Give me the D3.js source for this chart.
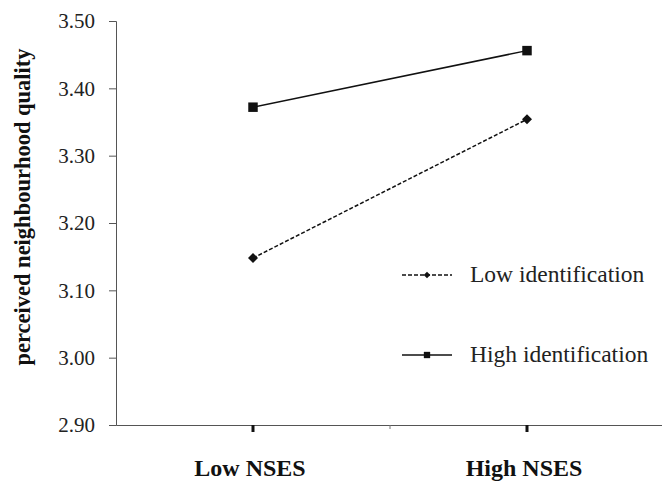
<!DOCTYPE html>
<html>
<head>
<meta charset="utf-8">
<script src="https://cdn.jsdelivr.net/npm/d3@7"></script>
<style>
  body { margin: 0; background: #fff; }
  svg text { font-family: "Liberation Serif", "Times New Roman", serif; }
</style>
</head>
<body>
<div id="chart"></div>
<script>
var categories = ["Low NSES", "High NSES"];
var lowIdent = [3.148, 3.354];
var highIdent = [3.372, 3.456];
var yTicks = [2.90, 3.00, 3.10, 3.20, 3.30, 3.40, 3.50];
var seriesNames = ["Low identification", "High identification"];

var w = 662, h = 482;
var plotLeft = 116, plotTop = 21, plotBottom = 425, plotRight = 664;
var serif = "Liberation Serif";

var svg = d3.select("#chart").append("svg")
    .attr("width", w)
    .attr("height", h);

var x = d3.scaleBand().domain(categories).range([plotLeft, plotRight]);
var y = d3.scaleLinear().domain([2.9, 3.5]).range([plotBottom, plotTop]);

// y axis
var yAxis = svg.append("g")
    .attr("transform", "translate(" + plotLeft + ",0)")
    .call(d3.axisLeft(y).tickValues(yTicks).tickFormat(d3.format(".2f")).tickSize(7).tickPadding(14));
yAxis.attr("font-family", serif);
yAxis.select(".domain").attr("stroke", "#555");
yAxis.selectAll(".tick line").attr("stroke", "#555");
yAxis.selectAll("text").attr("font-size", 21).attr("fill", "#222");

// x axis
var xAxis = svg.append("g")
    .attr("transform", "translate(0," + plotBottom + ")")
    .call(d3.axisBottom(x).tickSize(0).tickFormat(""));
xAxis.select(".domain").attr("stroke", "#555");

// thin boundary tick between categories
svg.append("line")
    .attr("x1", x("High NSES")).attr("x2", x("High NSES"))
    .attr("y1", plotBottom).attr("y2", plotBottom + 4)
    .attr("stroke", "#777").attr("stroke-width", 1);

// thick ticks at category centers
svg.selectAll(".ctick").data(categories).enter().append("line")
    .attr("class", "ctick")
    .attr("x1", function (d) { return x(d) + x.bandwidth() / 2; })
    .attr("x2", function (d) { return x(d) + x.bandwidth() / 2; })
    .attr("y1", plotBottom).attr("y2", plotBottom + 7)
    .attr("stroke", "#111").attr("stroke-width", 3);

svg.selectAll(".clabel").data(categories).enter().append("text")
    .attr("class", "clabel")
    .attr("x", function (d) { return x(d) + x.bandwidth() / 2 - 3; })
    .attr("y", 476)
    .attr("text-anchor", "middle")
    .attr("font-family", serif)
    .attr("font-size", 24)
    .attr("font-weight", "bold")
    .attr("fill", "#111")
    .text(function (d) { return d; });

// y title
svg.append("text")
    .attr("transform", "translate(30,207) rotate(-90)")
    .attr("text-anchor", "middle")
    .attr("font-family", serif)
    .attr("font-size", 22.5)
    .attr("font-weight", "bold")
    .attr("fill", "#111")
    .text("perceived neighbourhood quality");

var cx = function (d, i) { return x(categories[i]) + x.bandwidth() / 2; };
var line = d3.line().x(cx).y(function (d) { return y(d); });

// low identification (dashed, diamonds)
svg.append("path").datum(lowIdent)
    .attr("d", line)
    .attr("fill", "none").attr("stroke", "#111")
    .attr("stroke-width", 1.5).attr("stroke-dasharray", "4,2");
svg.selectAll(".diam").data(lowIdent).enter().append("path")
    .attr("class", "diam")
    .attr("transform", function (d, i) { return "translate(" + cx(d, i) + "," + y(d) + ") rotate(45)"; })
    .attr("d", d3.symbol().type(d3.symbolSquare).size(50))
    .attr("fill", "#111");

// high identification (solid, squares)
svg.append("path").datum(highIdent)
    .attr("d", line)
    .attr("fill", "none").attr("stroke", "#111")
    .attr("stroke-width", 1.5);
svg.selectAll(".sq").data(highIdent).enter().append("path")
    .attr("class", "sq")
    .attr("transform", function (d, i) { return "translate(" + cx(d, i) + "," + y(d) + ")"; })
    .attr("d", d3.symbol().type(d3.symbolSquare).size(90))
    .attr("fill", "#111");

// legend
var legY = [275, 355];
var leg = svg.selectAll(".leg").data(seriesNames).enter().append("g")
    .attr("class", "leg")
    .attr("transform", function (d, i) { return "translate(402," + legY[i] + ")"; });
leg.append("line")
    .attr("x1", 0).attr("x2", 50).attr("y1", 0).attr("y2", 0)
    .attr("stroke", "#111").attr("stroke-width", 1.5)
    .attr("stroke-dasharray", function (d, i) { return i === 0 ? "4,2" : null; });
leg.append("path")
    .attr("transform", function (d, i) { return i === 0 ? "translate(25,0) rotate(45)" : "translate(25,0)"; })
    .attr("d", function (d, i) { return d3.symbol().type(d3.symbolSquare).size(i === 0 ? 22 : 40)(); })
    .attr("fill", "#111");
leg.append("text")
    .attr("x", 68).attr("y", 7)
    .attr("font-family", serif)
    .attr("font-size", 23.5)
    .attr("fill", "#222")
    .text(function (d) { return d; });
</script>
</body>
</html>
